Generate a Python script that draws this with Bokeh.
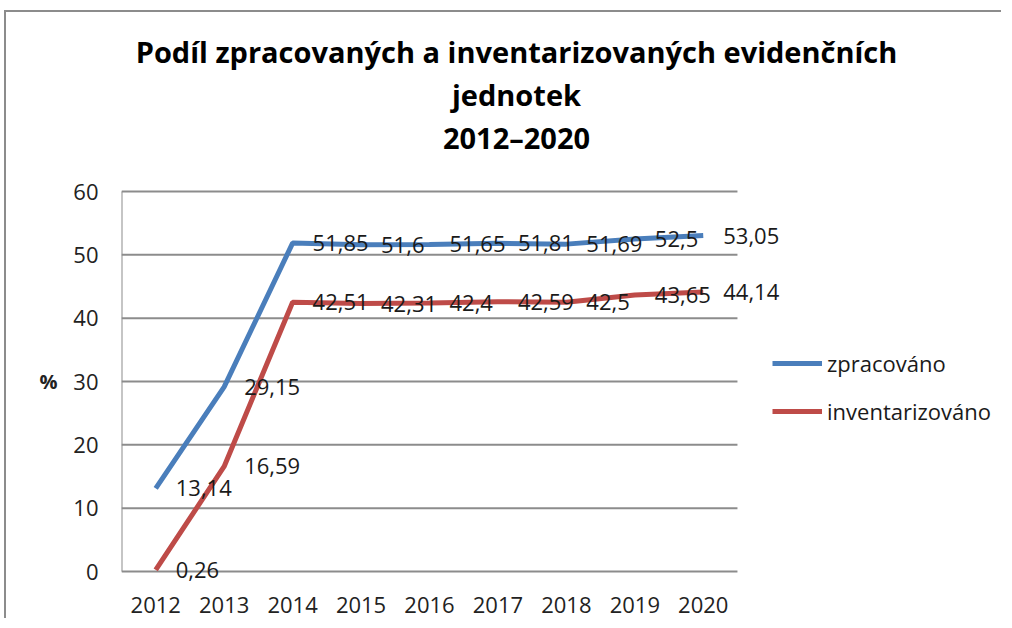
from bokeh.plotting import figure
from bokeh.models import (Legend, LegendItem, ColumnDataSource, FixedTicker, LabelSet, Label,
                          LinearAxis, Range1d)
from bokeh.core.properties import value
from bokeh.embed import file_html
from bokeh.resources import INLINE

years = ["2012", "2013", "2014", "2015", "2016", "2017", "2018", "2019", "2020"]
zpracovano = [13.14, 29.15, 51.85, 51.6, 51.65, 51.81, 51.69, 52.5, 53.05]
inventarizovano = [0.26, 16.59, 42.51, 42.31, 42.4, 42.59, 42.5, 43.65, 44.14]
series_names = ["zpracováno", "inventarizováno"]
y_ticks = [0, 10, 20, 30, 40, 50, 60]
y_unit_label = "%"
title_lines = ["Podíl zpracovaných a inventarizovaných evidenčních", "jednotek", "2012–2020"]

BLUE = "#4A7EBB"
RED = "#BE4B48"
GRID = "#8C8C8C"
FONT = "Open Sans"

def fmt(v):
    return ("%g" % v).replace(".", ",")

# layout (pixels)
LEFT = 115
FRAME_W = 880
ABOVE_ZERO_PX = 559       # frame height above the zero line
BELOW_ZERO_PX = 12        # room below the zero line for the lowest data label
FRAME_H = ABOVE_ZERO_PX + BELOW_ZERO_PX
CAT_PX = 68.44            # width of one category slot
UNIT_PX = 380 / 60.0      # pixels per y unit
n = len(years)
xs = list(range(n))

p = figure(x_range=Range1d(-0.5, -0.5 + FRAME_W / CAT_PX),
           y_range=Range1d(-BELOW_ZERO_PX / UNIT_PX, ABOVE_ZERO_PX / UNIT_PX),
           width=LEFT + FRAME_W, height=606, output_backend="svg", toolbar_location=None,
           min_border_left=LEFT, min_border_right=0, min_border_bottom=606 - FRAME_H,
           min_border_top=0)
p.frame_width = FRAME_W
p.frame_height = FRAME_H
p.title.visible = False
p.outline_line_color = None
p.background_fill_color = "white"
p.border_fill_color = "white"
p.xgrid.grid_line_color = None
p.ygrid.grid_line_color = None

# gridlines and y-axis line limited to the plotting area of the categories
x_left, x_right = -0.5, n - 0.5
p.segment(x0=[x_left] * len(y_ticks), x1=[x_right] * len(y_ticks), y0=y_ticks, y1=y_ticks,
          line_color=GRID, line_width=2)
p.segment(x0=[x_left], x1=[x_left], y0=[min(y_ticks)], y1=[max(y_ticks)],
          line_color=GRID, line_width=2)

# title lines (pixel distances above the zero line converted to y units)
title_px = [520, 477, 434]
for line, py in zip(title_lines, title_px):
    p.add_layout(Label(x=-0.5 + (517 - 122) / CAT_PX, y=py / UNIT_PX, text=line,
                       text_align="center", text_baseline="middle", text_font=FONT,
                       text_font_size="29px", text_font_style="bold", text_color="#000000"))

src1 = ColumnDataSource(dict(x=xs, y=zpracovano, lab=[fmt(v) for v in zpracovano]))
src2 = ColumnDataSource(dict(x=xs, y=inventarizovano, lab=[fmt(v) for v in inventarizovano]))

r1 = p.line("x", "y", source=src1, line_color=BLUE, line_width=5)
r2 = p.line("x", "y", source=src2, line_color=RED, line_width=5)

for src in (src1, src2):
    p.add_layout(LabelSet(x="x", y="y", text="lab", source=src, x_offset=20,
                          text_baseline="middle", text_align="left", text_font=value(FONT),
                          text_font_size="22px", text_color="#1a1a1a"))

# axes
p.xaxis.ticker = FixedTicker(ticks=xs)
p.xaxis.major_label_overrides = {i: y for i, y in zip(xs, years)}
p.yaxis.ticker = FixedTicker(ticks=y_ticks)
for ax in (p.xaxis[0], p.yaxis[0]):
    ax.axis_line_color = None
    ax.major_tick_line_color = None
    ax.minor_tick_line_color = None
    ax.major_label_text_font = FONT
    ax.major_label_text_font_size = "22px"
    ax.major_label_text_color = "#222222"
p.yaxis.major_label_standoff = 17
p.xaxis.major_label_standoff = 7

unit_axis = LinearAxis(ticker=FixedTicker(ticks=[30]), major_label_overrides={30: y_unit_label},
                       axis_line_color=None, major_tick_line_color=None,
                       minor_tick_line_color=None, major_label_text_font=FONT,
                       major_label_text_font_size="20px", major_label_text_font_style="bold",
                       major_label_text_color="#222222", major_label_standoff=7)
p.add_layout(unit_axis, "left")

# legend position: pixels from the frame's bottom-left corner
legend = Legend(items=[LegendItem(label=series_names[0], renderers=[r1]),
                       LegendItem(label=series_names[1], renderers=[r2])],
                location=(651, 145 + BELOW_ZERO_PX), orientation="vertical",
                label_text_font=FONT, label_text_font_size="22px", label_text_color="#1a1a1a",
                glyph_width=50, glyph_height=24, label_height=24, spacing=18,
                label_standoff=5, padding=0, margin=0,
                border_line_color=None, background_fill_alpha=0)
p.add_layout(legend, "center")

p.styles = {"border-top": "2px solid #8c8c8c", "border-left": "2px solid #8c8c8c",
            "margin-left": "4px", "margin-top": "10px"}

open("out.html", "w").write(file_html(p, INLINE))
